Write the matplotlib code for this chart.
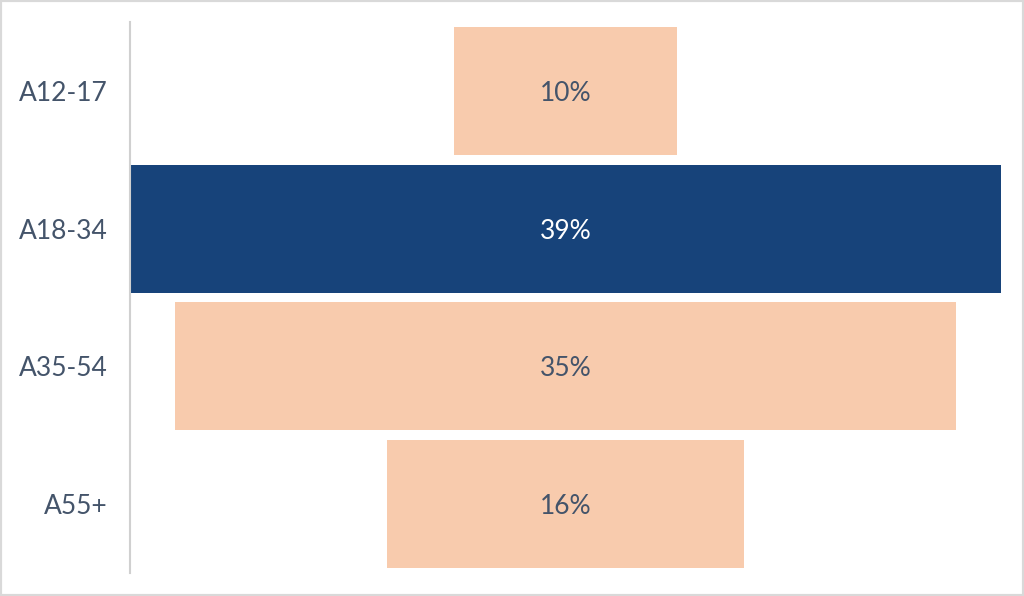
import matplotlib.pyplot as plt
from matplotlib.patches import Rectangle

groups = ['A12-17', 'A18-34', 'A35-54', 'A55+']
shares = [10, 39, 35, 16]
highlight = 'A18-34'

peach = '#f8cbad'
navy = '#17437a'
text_col = '#44546a'

plt.rcParams['font.family'] = ['Lato', 'DejaVu Sans']

fig = plt.figure(figsize=(10.24, 5.96), dpi=100)
ax = fig.add_axes([130 / 1024, 23 / 596, 871 / 1024, 551 / 596])

for i, (g, v) in enumerate(zip(groups, shares)):
    col = navy if g == highlight else peach
    ax.barh(i, v, left=-v / 2, height=0.93, color=col)
    ax.text(0, i, f'{v}%', ha='center', va='center_baseline', fontsize=19,
            color='white' if g == highlight else text_col)

ax.set_xlim(-19.5, 19.5)
ax.set_ylim(3.5, -0.5)
ax.set_yticks(range(len(groups)))
ax.set_yticklabels(groups, fontsize=19, color=text_col, va='center_baseline')
ax.tick_params(axis='y', length=0, pad=16)
ax.set_xticks([])
for s in ['top', 'right', 'bottom']:
    ax.spines[s].set_visible(False)
ax.spines['left'].set_color('#d0d0d0')
ax.spines['left'].set_linewidth(1.5)

fig.patches.append(Rectangle((0, 0), 1, 1, transform=fig.transFigure,
                             fill=False, edgecolor='#d9d9d9', linewidth=3))

fig.savefig('out.png', dpi=100)
